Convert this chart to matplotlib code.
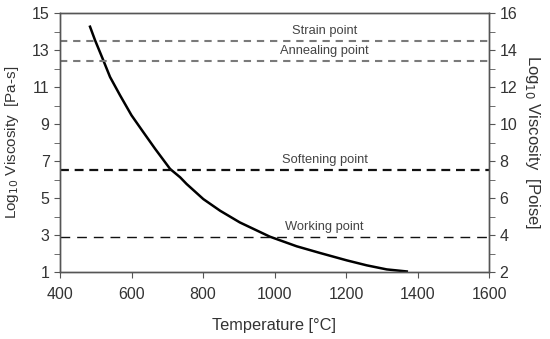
import matplotlib
matplotlib.use('Agg')
import matplotlib.pyplot as plt
from matplotlib.ticker import MultipleLocator

plt.rcParams['font.family'] = ['Liberation Sans', 'DejaVu Sans']

# viscosity curve
temps = [484, 498, 521, 540, 568, 600, 633, 666, 708, 736, 754, 801, 848, 903, 987,
         1062, 1127, 1202, 1258, 1314, 1370]
log_visc = [14.26, 13.53, 12.45, 11.54, 10.55, 9.47, 8.56, 7.66, 6.57, 6.12, 5.76, 4.94, 4.31,
            3.68, 2.91, 2.39, 2.03, 1.63, 1.36, 1.14, 1.03]

# reference points [Pa-s]
point_names = ['Strain point', 'Annealing point', 'Softening point', 'Working point']
point_values = [13.5, 12.4, 6.5, 2.9]
point_colors = ['#7a7a7a', '#7a7a7a', '#111111', '#111111']
point_widths = [1.5, 1.5, 1.6, 1.0]
point_dashes = [(3.5, 2.8), (3.5, 2.8), (4, 2.6), (7, 5)]

text_color = '#333333'

fig = plt.figure(figsize=(5.5, 3.39), dpi=100)
ax = fig.add_axes([60 / 550, 1 - 272 / 339, 429 / 550, 259 / 339])

ax.plot(temps, log_visc, color='black', lw=1.8)

for name, val, col, w, d in zip(point_names, point_values, point_colors, point_widths, point_dashes):
    ax.axhline(val, color=col, lw=w, dashes=d)
    ax.text(1140, val + 0.22, name, ha='center', va='bottom', fontsize=9.3, color='#444444')

ax.set_xlim(400, 1600)
ax.set_ylim(1, 15)
ax.xaxis.set_major_locator(MultipleLocator(200))
ax.set_yticks(range(1, 16, 2))
ax.set_yticks(range(2, 15, 2), minor=True)
ax.tick_params(axis='both', which='major', direction='out', length=4, labelsize=11.5,
               colors='#555555', labelcolor=text_color)
ax.tick_params(axis='x', pad=7)
ax.tick_params(axis='y', which='minor', direction='out', length=4, colors='#555555')
ax.set_xlabel('Temperature [°C]', fontsize=11.8, color=text_color, labelpad=11)
ax.set_ylabel('Log$_{10}$ Viscosity  [Pa-s]', fontsize=11, color=text_color, labelpad=8)
for s in ax.spines.values():
    s.set_color('#555555')
    s.set_linewidth(1)

ax2 = ax.twinx()
ax2.set_ylim(2, 16)
ax2.yaxis.set_major_locator(MultipleLocator(2))
ax2.yaxis.set_minor_locator(MultipleLocator(1))
ax2.tick_params(axis='y', which='both', direction='out', length=4, labelsize=11.5,
                colors='#555555', labelcolor=text_color)
ax2.set_ylabel('Log$_{10}$ Viscosity  [Poise]', fontsize=12, color=text_color,
               rotation=-90, labelpad=18)
for s in ax2.spines.values():
    s.set_color('#555555')
    s.set_linewidth(1)

fig.savefig('out.png', dpi=100)
